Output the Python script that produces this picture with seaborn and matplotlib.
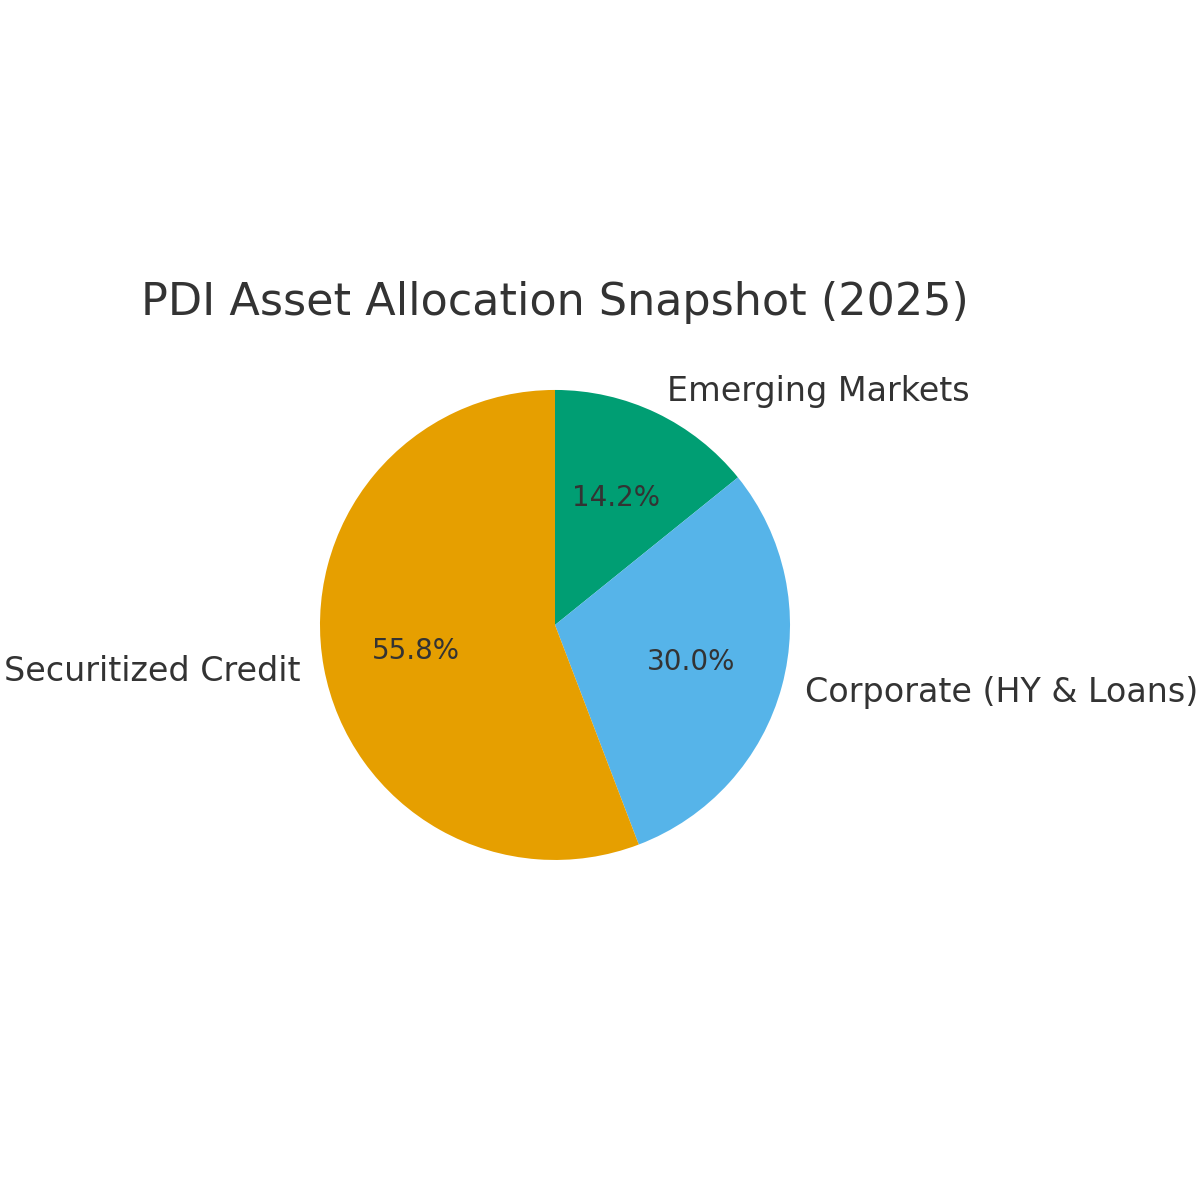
import matplotlib
matplotlib.use("Agg")
import matplotlib.pyplot as plt
import seaborn as sns

categories = ["Emerging Markets", "Corporate (HY & Loans)", "Securitized Credit"]
values = [14.2, 30.0, 55.8]
colors = ["#009E73", "#56B4E9", "#E69F00"]
title = "PDI Asset Allocation Snapshot (2025)"

sns.set_theme(style="white")
plt.rcParams['font.family'] = ['DejaVu Sans']
text_color = "#333333"

fig = plt.figure(figsize=(6, 6), dpi=200)
ax = fig.add_axes([0.2177, 0.2344, 0.4896, 0.4896])
wedges, texts, autotexts = ax.pie(
    values, labels=categories, colors=colors, autopct="%1.1f%%",
    startangle=90, counterclock=False, labeldistance=1.1, pctdistance=0.6,
    textprops={"color": text_color},
    wedgeprops={"linewidth": 0, "edgecolor": "none"},
)
for t in texts:
    t.set_fontsize(12)
for t in autotexts:
    t.set_fontsize(10)
ax.set_title(title, fontsize=16, color=text_color)
ax.set_aspect("equal")
fig.savefig("out.png", dpi=200)
